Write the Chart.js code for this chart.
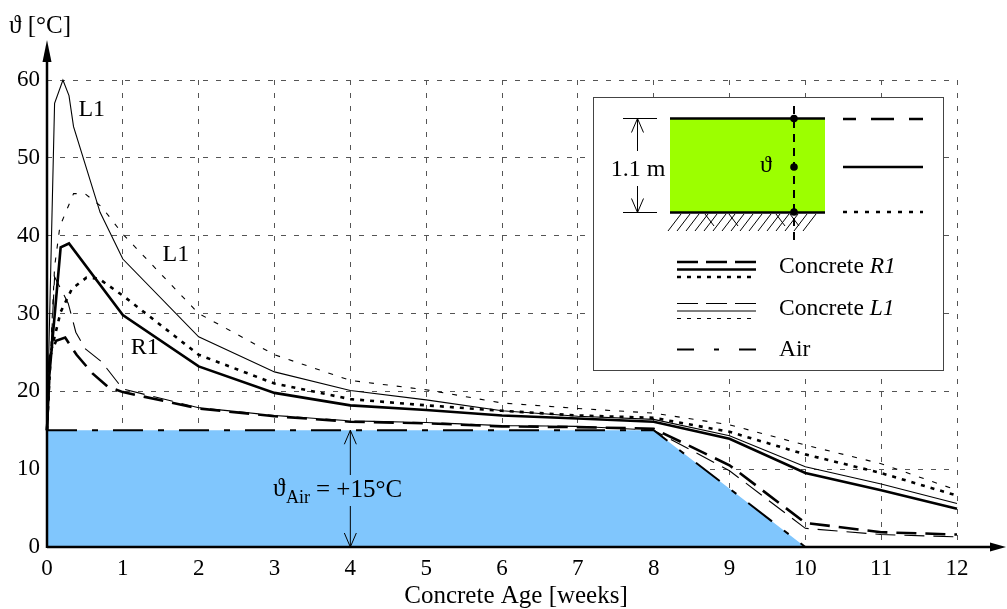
<!DOCTYPE html>
<html>
<head>
<meta charset="utf-8">
<script src="https://cdn.jsdelivr.net/npm/chart.js@4"></script>
<style>
html, body { margin: 0; padding: 0; background: #fff; }
</style>
</head>
<body>
<canvas id="myChart" width="1007" height="609"></canvas>
<script>
// concrete R1 (thick): top = dashed, middle = solid, bottom = dotted
var r1TopWeeks = [0, 0.04, 0.12, 0.24, 0.39, 0.6, 0.8, 1, 2, 3, 4, 5, 6, 7, 8, 9, 10, 11, 12];
var r1TopTemp  = [15, 24.5, 26.5, 26.9, 24.7, 22.3, 20.6, 19.9, 17.8, 16.8, 16.1, 15.9, 15.5, 15.4, 15.2, 10.5, 3.1, 1.9, 1.6];
var r1MidWeeks = [0, 0.03, 0.18, 0.29, 1, 2, 3, 4, 5, 6, 7, 8, 9, 10, 11, 12];
var r1MidTemp  = [15, 22, 38.5, 39.0, 29.8, 23.2, 19.8, 18.2, 17.6, 16.9, 16.5, 16.1, 13.9, 9.5, 7.3, 4.9];
var r1BotWeeks = [0, 0.05, 0.18, 0.33, 0.52, 0.68, 1, 2, 3, 4, 5, 6, 7, 8, 9, 10, 11, 12];
var r1BotTemp  = [15, 25, 30.2, 33.2, 34.6, 34.5, 32.3, 24.7, 21.0, 19.0, 18.2, 17.5, 16.9, 16.6, 14.8, 11.9, 9.5, 6.6];

// concrete L1 (thin)
var l1TopWeeks = [0, 0.1, 0.28, 0.38, 0.5, 0.72, 1, 2, 3, 4, 5, 6, 7, 8, 9, 10, 11, 12];
var l1TopTemp  = [15, 34.7, 31.3, 27.6, 25.5, 23.8, 20.3, 17.9, 16.9, 16.2, 16.0, 15.6, 15.5, 15.0, 9.8, 2.4, 1.6, 1.3];
var l1MidWeeks = [0, 0.1, 0.21, 0.29, 0.35, 0.7, 1, 2, 3, 4, 5, 6, 7, 8, 9, 10, 11, 12];
var l1MidTemp  = [15, 57, 60, 58, 54, 43, 37, 27, 22.5, 20.1, 18.9, 17.5, 16.8, 16.4, 14.3, 10.3, 8.1, 5.6];
var l1BotWeeks = [0, 0.1, 0.17, 0.35, 0.5, 0.72, 1, 2, 3, 4, 5, 6, 7, 8, 9, 10, 11, 12];
var l1BotTemp  = [15, 36, 41.2, 45.4, 45.4, 43.7, 40.2, 30, 24.7, 21.4, 20.2, 18.5, 17.8, 17.2, 15.7, 13.1, 10.7, 7.3];

// air
var airWeeks = [0, 8, 10, 12];
var airTemp  = [15, 15, 0, 0];

var weekTicks = [0, 1, 2, 3, 4, 5, 6, 7, 8, 9, 10, 11, 12];
var tempTicks = [0, 10, 20, 30, 40, 50, 60];

var serif = '"Liberation Serif", "DejaVu Serif", serif';

function pts(xs, ys) {
    return xs.map(function (x, i) { return {x: x, y: ys[i]}; });
}

function line(ctx, x1, y1, x2, y2, w, dash, off) {
    ctx.save();
    ctx.lineWidth = w;
    ctx.setLineDash(dash || []);
    ctx.lineDashOffset = off || 0;
    ctx.beginPath();
    ctx.moveTo(x1, y1);
    ctx.lineTo(x2, y2);
    ctx.stroke();
    ctx.restore();
}

function openArrow(ctx, x, y, dir) {
    // dir = -1 points up, 1 points down
    ctx.beginPath();
    ctx.moveTo(x - 6, y - dir * 14);
    ctx.lineTo(x, y);
    ctx.lineTo(x + 6, y - dir * 14);
    ctx.stroke();
}

var decor = {
    id: 'decor',
    afterDraw: function (chart) {
        var ctx = chart.ctx;
        var xs = chart.scales.x, ys = chart.scales.y;
        var x0 = xs.getPixelForValue(0), y0 = ys.getPixelForValue(0);
        ctx.save();
        ctx.strokeStyle = '#000';
        ctx.fillStyle = '#000';

        // axes with arrows
        line(ctx, x0, y0, 995, y0, 2.5);
        line(ctx, x0, y0 + 1, x0, 58, 2.5);
        ctx.beginPath(); ctx.moveTo(x0, 40); ctx.lineTo(x0 - 4.5, 62); ctx.lineTo(x0 + 4.5, 62); ctx.closePath(); ctx.fill();
        ctx.beginPath(); ctx.moveTo(1006, y0); ctx.lineTo(990, y0 - 4.5); ctx.lineTo(990, y0 + 4.5); ctx.closePath(); ctx.fill();

        // axis titles
        ctx.font = '25px ' + serif;
        ctx.textBaseline = 'alphabetic';
        ctx.textAlign = 'left';
        ctx.fillText('\u03D1 [\u00B0C]', 9, 33);
        ctx.textAlign = 'center';
        ctx.fillText('Concrete Age [weeks]', 516, 603);

        // curve labels
        ctx.font = '24px ' + serif;
        ctx.textBaseline = 'middle';
        ctx.fillText('L1', xs.getPixelForValue(0.59), ys.getPixelForValue(56.2));
        ctx.fillText('L1', xs.getPixelForValue(1.70), ys.getPixelForValue(37.5));
        ctx.fillText('R1', xs.getPixelForValue(1.29), ys.getPixelForValue(25.6));

        // air annotation
        var ax = xs.getPixelForValue(4), aTop = ys.getPixelForValue(15);
        ctx.lineWidth = 1;
        line(ctx, ax, aTop, ax, 475, 1);
        line(ctx, ax, 506, ax, y0, 1);
        openArrow(ctx, ax, aTop, -1);
        openArrow(ctx, ax, y0, 1);
        ctx.textAlign = 'left';
        ctx.textBaseline = 'alphabetic';
        ctx.font = '25px ' + serif;
        ctx.fillText('\u03D1', 273, 496);
        ctx.font = '18px ' + serif;
        ctx.fillText('Air', 286, 503);
        ctx.font = '25px ' + serif;
        ctx.fillText('= +15\u00B0C', 316, 497);

        // legend box
        ctx.fillStyle = '#fff';
        ctx.fillRect(593, 97, 350, 273);
        ctx.strokeStyle = '#444';
        ctx.lineWidth = 1;
        ctx.strokeRect(593.5, 97.5, 350, 273);
        ctx.strokeStyle = '#000';
        ctx.fillStyle = '#000';

        // concrete block
        ctx.fillStyle = '#9cff00';
        ctx.fillRect(670, 118, 155, 95);
        ctx.fillStyle = '#000';
        line(ctx, 670, 118.5, 825, 118.5, 2.5);
        line(ctx, 670, 212.5, 825, 212.5, 2.5);
        // ground hatch
        for (var hx = 668; hx <= 810; hx += 9) {
            line(ctx, hx, 231, hx + 13, 214, 1);
        }
        [705, 729, 776, 790].forEach(function (bx) { line(ctx, bx, 214, bx + 9, 226, 1); });

        // dimension 1.1 m
        line(ctx, 623, 118.5, 657, 118.5, 1);
        line(ctx, 623, 212.5, 657, 212.5, 1);
        line(ctx, 637.5, 118.5, 637.5, 151, 1);
        line(ctx, 637.5, 186, 637.5, 212.5, 1);
        openArrow(ctx, 637.5, 118.5, -1);
        openArrow(ctx, 637.5, 212.5, 1);
        ctx.font = '24px ' + serif;
        ctx.textAlign = 'center';
        ctx.textBaseline = 'middle';
        ctx.fillText('1.1 m', 638, 170);

        // section line with measuring points
        line(ctx, 794, 106, 794, 240, 2, [8, 6]);
        [118.5, 167, 212].forEach(function (py) {
            ctx.beginPath(); ctx.arc(794, py, 3.8, 0, Math.PI * 2); ctx.fill();
        });
        ctx.fillText('\u03D1', 766, 166);

        // position keys
        line(ctx, 843, 119, 923, 119, 2.5, [23, 15], 10);
        line(ctx, 843, 167, 923, 167, 2.5);
        line(ctx, 843, 212, 923, 212, 2.5, [4, 7]);

        // series keys
        line(ctx, 677, 262, 756, 262, 2.5, [21, 8]);
        line(ctx, 677, 269.5, 756, 269.5, 2.5);
        line(ctx, 677, 277, 756, 277, 2.5, [4, 6]);
        line(ctx, 677, 303.5, 756, 303.5, 1.2, [21, 8]);
        line(ctx, 677, 311, 756, 311, 1.2);
        line(ctx, 677, 318.5, 756, 318.5, 1.2, [4, 6]);
        line(ctx, 677, 349.5, 756, 349.5, 2, [17, 20, 5, 20]);

        ctx.textAlign = 'left';
        ctx.textBaseline = 'middle';
        ctx.font = '23.5px ' + serif;
        var w1 = ctx.measureText('Concrete ').width;
        ctx.fillText('Concrete ', 779, 267);
        ctx.fillText('Concrete ', 779, 309);
        ctx.fillText('Air', 779, 350);
        ctx.font = 'italic 23.5px ' + serif;
        ctx.fillText('R1', 779 + w1, 267);
        ctx.fillText('L1', 779 + w1, 309);

        ctx.restore();
    }
};

var ctx = document.getElementById('myChart').getContext('2d');
var myChart = new Chart(ctx, {
    type: 'line',
    data: {
        datasets: [
            {label: 'R1 top', data: pts(r1TopWeeks, r1TopTemp), borderColor: '#000', borderWidth: 2.6, borderDash: [20, 9]},
            {label: 'R1 middle', data: pts(r1MidWeeks, r1MidTemp), borderColor: '#000', borderWidth: 2.6},
            {label: 'R1 bottom', data: pts(r1BotWeeks, r1BotTemp), borderColor: '#000', borderWidth: 2.6, borderDash: [4, 6]},
            {label: 'L1 top', data: pts(l1TopWeeks, l1TopTemp), borderColor: '#000', borderWidth: 1.1, borderDash: [20, 9]},
            {label: 'L1 middle', data: pts(l1MidWeeks, l1MidTemp), borderColor: '#000', borderWidth: 1.1},
            {label: 'L1 bottom', data: pts(l1BotWeeks, l1BotTemp), borderColor: '#000', borderWidth: 1.1, borderDash: [5, 9]},
            {label: 'Air', data: pts(airWeeks, airTemp), borderColor: '#000', borderWidth: 2, borderDash: [30, 15, 6, 15],
             fill: 'origin', backgroundColor: '#80c6fd'}
        ]
    },
    options: {
        responsive: false,
        animation: false,
        devicePixelRatio: 1,
        clip: false,
        layout: {padding: {top: 80, right: 50, left: 0, bottom: 0}},
        elements: {
            point: {radius: 0},
            line: {tension: 0, borderCapStyle: 'butt'}
        },
        plugins: {
            legend: {display: false},
            tooltip: {enabled: false}
        },
        scales: {
            x: {
                type: 'linear',
                min: 0,
                max: 12,
                z: 1,
                afterFit: function (s) { s.height = 62; },
                afterBuildTicks: function (s) { s.ticks = weekTicks.map(function (v) { return {value: v}; }); },
                grid: {color: '#555', lineWidth: 1, drawTicks: false},
                border: {display: false, dash: [5, 8]},
                ticks: {color: '#000', padding: 8, font: {family: serif, size: 23}}
            },
            y: {
                min: 0,
                max: 60,
                z: 1,
                afterFit: function (s) { s.width = 47; },
                afterBuildTicks: function (s) { s.ticks = tempTicks.map(function (v) { return {value: v}; }); },
                grid: {color: '#555', lineWidth: 1, drawTicks: false},
                border: {display: false, dash: [5, 8]},
                ticks: {color: '#000', padding: 7, font: {family: serif, size: 23}}
            }
        }
    },
    plugins: [decor]
});
</script>
</body>
</html>
